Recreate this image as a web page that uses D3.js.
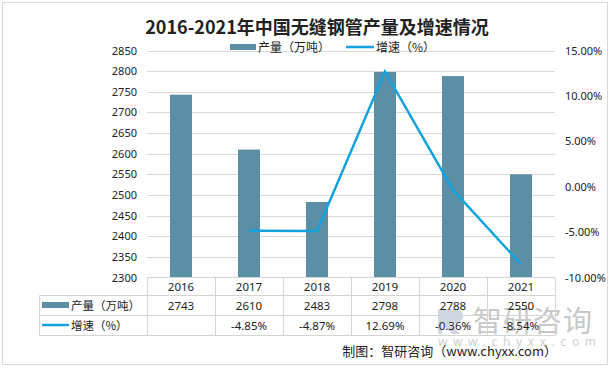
<!DOCTYPE html>
<html><head><meta charset="utf-8">
<script src="https://cdn.jsdelivr.net/npm/d3@7"></script>
<style>
body{margin:0;background:#fff;}
svg text{font-family:"Noto Sans CJK SC","Noto Sans",sans-serif;fill:#222;}
</style></head>
<body><svg id="c" width="610" height="368"></svg>
<script>
const years = ["2016","2017","2018","2019","2020","2021"];
const output = [2743, 2610, 2483, 2798, 2788, 2550];
const growth = [null, -4.85, -4.87, 12.69, -0.36, -8.54];
const leftTicks = [2300,2350,2400,2450,2500,2550,2600,2650,2700,2750,2800,2850];
const rightTicks = [-10,-5,0,5,10,15];
const title = "2016-2021年中国无缝钢管产量及增速情况";
const seriesNames = ["产量（万吨）","增速（%）"];
const source = "制图：智研咨询（www.chyxx.com）";

const svg = d3.select("#c");
const barColor = "#5b8fa6", lineColor = "#12a2dd", gridColor = "#d9d9d9", tblColor = "#d4d4d4";
const X0 = 147, X1 = 555, Y0 = 50.5, Y1 = 277.5;

svg.append("rect").attr("x",2.5).attr("y",2.5).attr("width",605).attr("height",362)
  .attr("fill","#fff").attr("stroke","#d9d9d9");

svg.append("text").attr("x",317).attr("y",34).attr("text-anchor","middle")
  .attr("font-size",18).attr("font-weight","bold").text(title);

const x = d3.scaleBand().domain(years).range([X0,X1]);
const yL = d3.scaleLinear().domain([2300,2850]).range([Y1,Y0]);
const yR = d3.scaleLinear().domain([-10,15]).range([Y1,Y0]);

// gridlines
svg.append("g").selectAll("line").data(leftTicks.slice(1)).join("line")
  .attr("x1",X0).attr("x2",X1).attr("y1",d=>Math.round(yL(d))+0.5).attr("y2",d=>Math.round(yL(d))+0.5)
  .attr("stroke",gridColor).attr("stroke-width",1);

// left axis
const la = svg.append("g").attr("transform",`translate(${X0},0)`)
  .call(d3.axisLeft(yL).tickValues(leftTicks).tickSize(0).tickPadding(10).tickFormat(d3.format("d")));
la.select(".domain").remove();
la.selectAll("text").attr("font-size",11).attr("fill","#222").style("font-family","'Noto Sans','DejaVu Sans',sans-serif");

// right axis
const ra = svg.append("g").attr("transform",`translate(${X1},0)`)
  .call(d3.axisRight(yR).tickValues(rightTicks).tickSize(0).tickPadding(10).tickFormat(d=>d.toFixed(2)+"%"));
ra.select(".domain").remove();
ra.selectAll("text").attr("font-size",11).attr("fill","#222").style("font-family","'Noto Sans','DejaVu Sans',sans-serif");

// bars
const bw = 22;
svg.append("g").selectAll("rect").data(output).join("rect")
  .attr("x",(d,i)=>x(years[i])+x.bandwidth()/2-bw/2).attr("width",bw)
  .attr("y",d=>yL(d)).attr("height",d=>yL(2300)-yL(d)).attr("fill",barColor);

// line
const pts = growth.map((g,i)=>({g,i})).filter(p=>p.g!==null);
svg.append("path").datum(pts)
  .attr("d",d3.line().x(p=>x(years[p.i])+x.bandwidth()/2).y(p=>yR(p.g)))
  .attr("fill","none").attr("stroke",lineColor).attr("stroke-width",2.5);

// legend
const lg = svg.append("g");
lg.append("rect").attr("x",230).attr("y",44).attr("width",26).attr("height",6).attr("fill",barColor);
lg.append("text").attr("x",258).attr("y",51.5).attr("font-size",12).text(seriesNames[0]);
lg.append("line").attr("x1",346).attr("x2",374).attr("y1",47).attr("y2",47).attr("stroke",lineColor).attr("stroke-width",2.5);
lg.append("text").attr("x",376).attr("y",51.5).attr("font-size",12).text(seriesNames[1]);

// watermark
const wm = svg.append("g");
wm.append("path").attr("d","M438,309 h18 a7,7 0 0 1 0,14 h-6 l10,11 h-8 l-10,-11 v11 h-4 z")
  .attr("fill","#c9d3e0").attr("opacity",0.9);
wm.append("text").attr("x",473).attr("y",332).attr("font-size",29)
  .style("fill","#c8c8c8").attr("letter-spacing",1).text("智研咨询");
wm.append("text").attr("x",438).attr("y",346).attr("font-size",12).style("fill","#cfcfcf")
  .attr("textLength",158).attr("lengthAdjust","spacing")
  .style("font-family","'Noto Sans',sans-serif").text("www.chyxx.com");

// table
const tb = svg.append("g");
const rowY = [277.5, 295.5, 315.5, 335.5];
const TL = 39.5;
tb.append("line").attr("x1",X0).attr("x2",X1).attr("y1",rowY[0]).attr("y2",rowY[0]).attr("stroke",tblColor);
[1,2,3].forEach(k=>tb.append("line").attr("x1",TL).attr("x2",X1).attr("y1",rowY[k]).attr("y2",rowY[k]).attr("stroke",tblColor));
const colX = years.map(y=>x(y)).concat([X1]);
colX.forEach(cx=>tb.append("line").attr("x1",Math.round(cx)+0.5).attr("x2",Math.round(cx)+0.5).attr("y1",rowY[0]).attr("y2",rowY[3]).attr("stroke",tblColor));
tb.append("line").attr("x1",TL).attr("x2",TL).attr("y1",rowY[1]).attr("y2",rowY[3]).attr("stroke",tblColor);

const numFont = "'Noto Sans','DejaVu Sans',sans-serif";
tb.selectAll(".yr").data(years).join("text").attr("x",d=>x(d)+x.bandwidth()/2).attr("y",291)
  .attr("text-anchor","middle").attr("font-size",11.5).style("font-family",numFont).text(d=>d);
tb.selectAll(".ov").data(output).join("text").attr("x",(d,i)=>x(years[i])+x.bandwidth()/2).attr("y",310)
  .attr("text-anchor","middle").attr("font-size",11.5).style("font-family",numFont).text(d=>d);
tb.selectAll(".gv").data(growth).join("text").attr("x",(d,i)=>x(years[i])+x.bandwidth()/2).attr("y",330)
  .attr("text-anchor","middle").attr("font-size",11.5).style("font-family",numFont).text(d=>d===null?"":d.toFixed(2)+"%");
tb.append("rect").attr("x",42).attr("y",302).attr("width",27).attr("height",6).attr("fill",barColor);
tb.append("text").attr("x",71).attr("y",310).attr("font-size",11.5).text(seriesNames[0]);
tb.append("line").attr("x1",42).attr("x2",69).attr("y1",325).attr("y2",325).attr("stroke",lineColor).attr("stroke-width",2.5);
tb.append("text").attr("x",71).attr("y",330).attr("font-size",11.5).text(seriesNames[1]);

svg.append("text").attr("x",557).attr("y",356).attr("text-anchor","end").attr("font-size",13).text(source);
</script></body></html>
